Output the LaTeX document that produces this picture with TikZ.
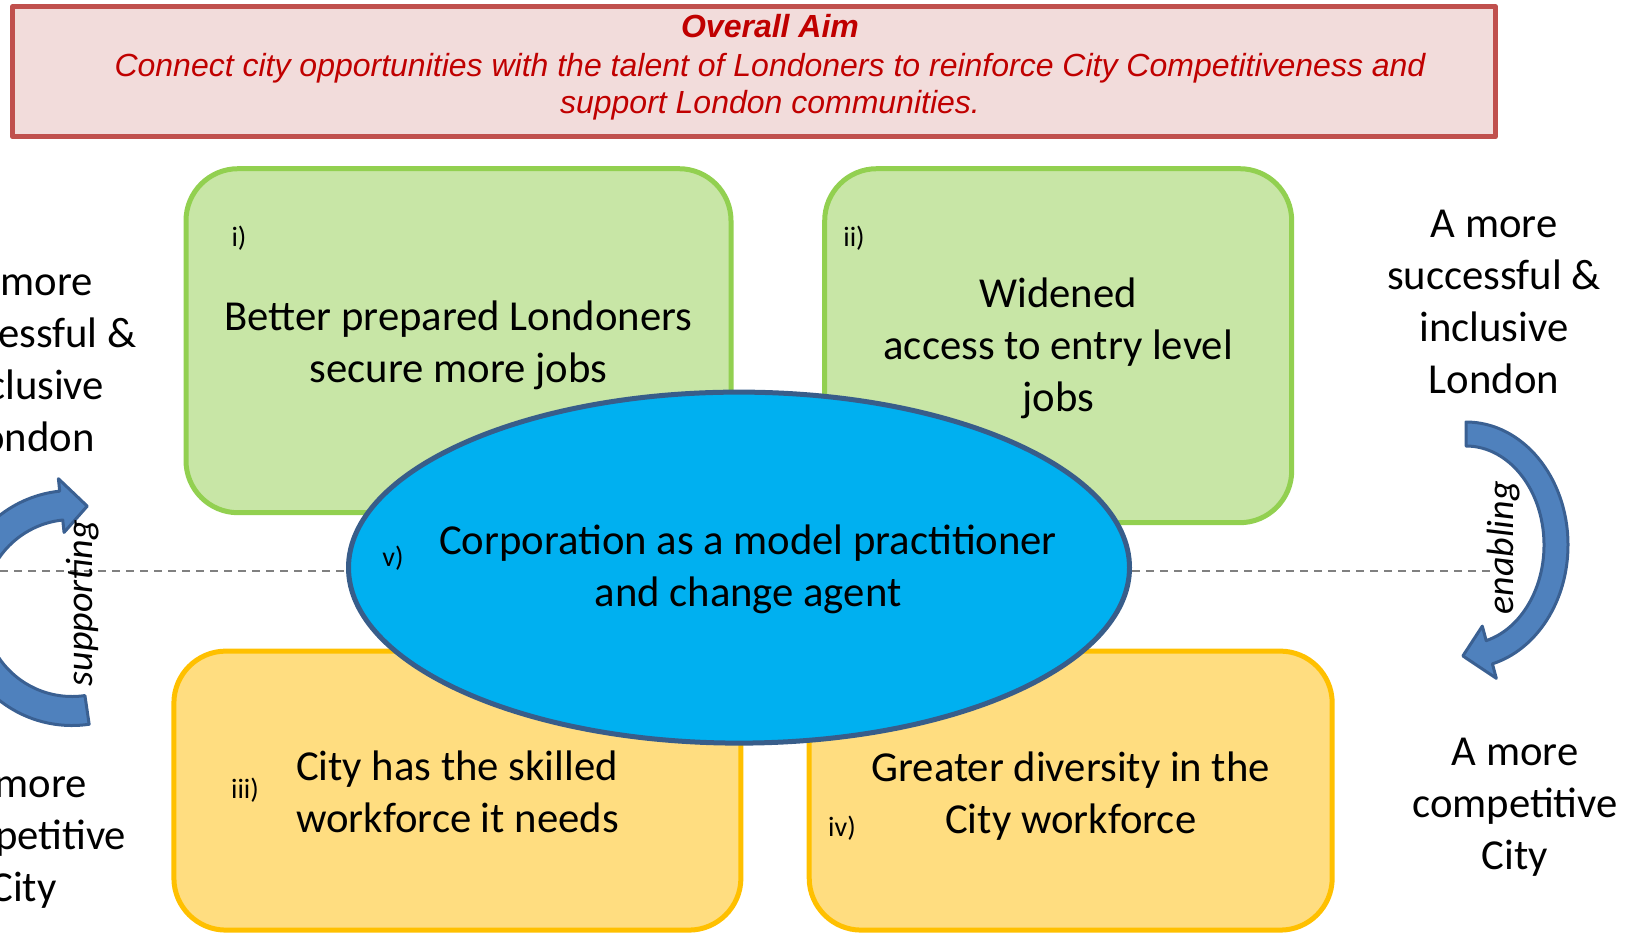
\documentclass[tikz,border=0pt]{standalone}
\usepackage{fontspec}
\setmainfont{Carlito}
\newfontfamily\aimfont{Liberation Sans}
\usepackage{tikz}
\usetikzlibrary{shapes.geometric}

\definecolor{aimred}{RGB}{192,0,0}
\definecolor{aimline}{RGB}{192,80,77}
\definecolor{aimfill}{RGB}{242,220,219}
\definecolor{outgreen}{RGB}{146,208,80}
\definecolor{fillgreen}{RGB}{200,230,166}
\definecolor{outyellow}{RGB}{255,192,0}
\definecolor{fillyellow}{RGB}{255,221,128}
\definecolor{corpblue}{RGB}{0,176,240}
\definecolor{corpline}{RGB}{56,93,138}
\definecolor{arrowblue}{RGB}{79,129,189}
\definecolor{arrowline}{RGB}{58,96,146}
\definecolor{dashgray}{RGB}{128,128,128}

\begin{document}
\begin{tikzpicture}[x=1pt,y=-1pt,line join=round,
  bodytext/.style={font=\fontsize{42.7}{52}\selectfont,align=center,inner sep=0pt},
  outcome/.style={draw,line width=5pt,rounded corners=52pt,inner sep=0pt},
  greenbox/.style={outcome,draw=outgreen,fill=fillgreen},
  yellowbox/.style={outcome,draw=outyellow,fill=fillyellow},
  numtext/.style={font=\fontsize{28}{34}\selectfont,inner sep=0pt},
  turntext/.style={font=\fontsize{38}{44}\selectfont\itshape,rotate=90,inner sep=0pt},
  turnarrow/.style={fill=arrowblue,draw=arrowline,line width=3pt},
  dashline/.style={draw=dashgray,line width=2pt,dash pattern=on 8pt off 6pt}]
  \useasboundingbox (0,0) rectangle (1630,935);
  \clip (0,0) rectangle (1630,935);
  % overall aim
  \node[draw=aimline,fill=aimfill,line width=5pt,minimum width=1483pt,minimum height=130pt,inner sep=0pt] (aimbox) at (754,71.7) {};
  \node[font=\aimfont\fontsize{32}{36}\selectfont\bfseries\itshape,text=aimred,inner sep=0pt] (aimhead) at (770,26.5) {Overall Aim};
  \node[font=\aimfont\fontsize{32}{36.5}\selectfont\itshape,text=aimred,align=center,inner sep=0pt] (aimtext) at (770,86.5) {Connect city opportunities with the talent of Londoners to reinforce City Competitiveness and\\support London communities.};
  % four outcomes
  \node[greenbox,minimum width=545pt,minimum height=344pt] (prep) at (458.5,340.7) {};
  \node[greenbox,minimum width=467pt,minimum height=354pt] (access) at (1058.2,345.7) {};
  \node[yellowbox,minimum width=567pt,minimum height=279pt] (skill) at (457.4,790.6) {};
  \node[yellowbox,minimum width=523pt,minimum height=279pt] (divers) at (1070.7,790.6) {};
  \node[bodytext] (preptxt) at (458.5,345) {Better prepared Londoners\\secure more jobs};
  \node[bodytext] (accesstxt) at (1058.2,348.8) {Widened\\access to entry level\\jobs};
  \node[bodytext,align=left] (skilltxt) at (457.4,791.6) {City has the skilled\\workforce it needs};
  \node[bodytext] (diverstxt) at (1070.7,795.8) {Greater diversity in the\\City workforce};
  \node[numtext] (numi) at (239,238) {i)};
  \node[numtext] (numii) at (854,238) {ii)};
  \node[numtext] (numiii) at (245,790) {iii)};
  \node[numtext] (numiv) at (842,828.5) {iv)};
  % corporation
  \node[ellipse,draw=corpline,fill=corpblue,line width=5pt,minimum width=781pt,minimum height=351pt,inner sep=0pt] (corp) at (739,567.6) {};
  \node[bodytext] (corptxt) at (748,569.6) {Corporation as a model practitioner\\and change agent};
  \node[numtext] (numv) at (393,558) {v)};
  \coordinate (dashL) at (0,571);
  \coordinate (dashR) at (1496,571);
  \draw[dashline] (dashL) -- (dashL -| corp.west);
  \draw[dashline] (dashR -| corp.east) -- (dashR);
  % supporting
  \begin{scope}[shift={(72,608)}]
    \draw[turnarrow] (81.6:117.5) arc[start angle=81.6,end angle=264,radius=117.5]
      -- (264:130) -- (278.5:103) -- (264:76) -- (264:88.5)
      arc[start angle=264,end angle=81.6,radius=88.5] -- cycle;
  \end{scope}
  \node[turntext] (supp) at (83,603) {supporting};
  % enabling
  \begin{scope}[shift={(1466,545)}]
    \draw[turnarrow] (-90:102 and 123) arc[start angle=-90,end angle=75,x radius=102,y radius=123]
      -- (75:117 and 138) -- (92:90 and 111) -- (75:63 and 84) -- (75:78 and 99)
      arc[start angle=75,end angle=-90,x radius=78,y radius=99] -- cycle;
  \end{scope}
  \node[turntext] (enab) at (1504,548) {enabling};
  % side statements
  \node[bodytext] (succL) at (29.6,360) {A more\\successful \&\\inclusive\\London};
  \node[bodytext] (succR) at (1494,301.5) {A more\\successful \&\\inclusive\\London};
  \node[bodytext] (compL) at (23.4,839) {A more\\competitive\\City};
  \node[bodytext] (compR) at (1515,807) {A more\\competitive\\City};
\end{tikzpicture}
\end{document}
